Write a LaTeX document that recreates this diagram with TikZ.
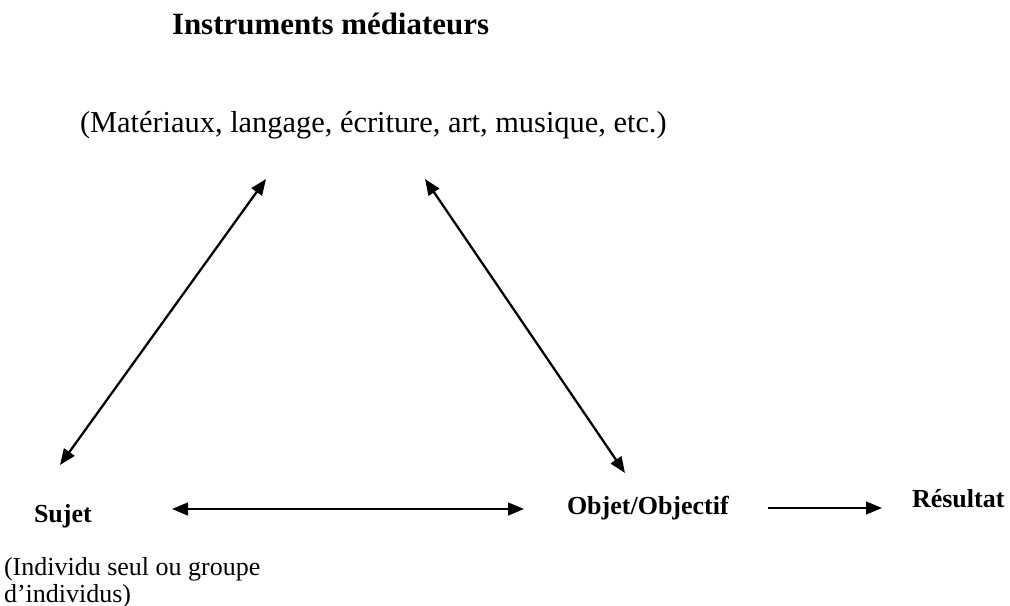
\documentclass[tikz,border=0pt]{standalone}
\usepackage{fontspec}
\setmainfont{Liberation Serif}
\usetikzlibrary{arrows.meta}
\begin{document}
\begin{tikzpicture}[x=0.75pt,y=-0.75pt,
  lbl/.style={inner sep=0pt,outer sep=0pt,text=black},
  title/.style={lbl,font=\fontsize{23.2}{27}\selectfont\bfseries},
  sub/.style={lbl,font=\fontsize{22.8}{27}\selectfont},
  blab/.style={lbl,font=\fontsize{19.5}{22}\selectfont\bfseries},
  note/.style={lbl,font=\fontsize{19.5}{22}\selectfont},
  conn/.style={line width=1.7pt,{Triangle[length=12pt,width=9.5pt]}-{Triangle[length=12pt,width=9.5pt]}},
  oneway/.style={line width=1.6pt,-{Triangle[length=12pt,width=9.5pt]}}]
\useasboundingbox (0,0) rectangle (1010,606);
\fill[white] (0,0) rectangle (1010,606);
\node[title,anchor=base west] (ti) at (172,35) {Instruments médiateurs};
\node[sub,anchor=base west] (su) at (80,133) {(Matériaux, langage, écriture, art, musique, etc.)};
\node[blab,anchor=base west] (sj) at (34,522) {Sujet};
\node[note,anchor=base west] (ind1) at (4,575) {(Individu seul ou groupe};
\node[note,anchor=base west] (ind2) at (4,602) {d’individus)};
\node[blab,anchor=base west] (ob) at (567,514) {Objet/Objectif};
\node[blab,anchor=base west] (re) at (912,507) {Résultat};
\coordinate (a1) at (266,179);
\coordinate (a2) at (60,465);
\coordinate (b1) at (425,179);
\coordinate (b2) at (625,473);
\coordinate (c1) at (172,509);
\coordinate (c2) at (524,509);
\coordinate (d1) at (768,508);
\coordinate (d2) at (882,508);
\draw[conn] (a1) -- (a2);
\draw[conn] (b1) -- (b2);
\draw[conn] (c1) -- (c2);
\draw[oneway] (d1) -- (d2);
\end{tikzpicture}
\end{document}
